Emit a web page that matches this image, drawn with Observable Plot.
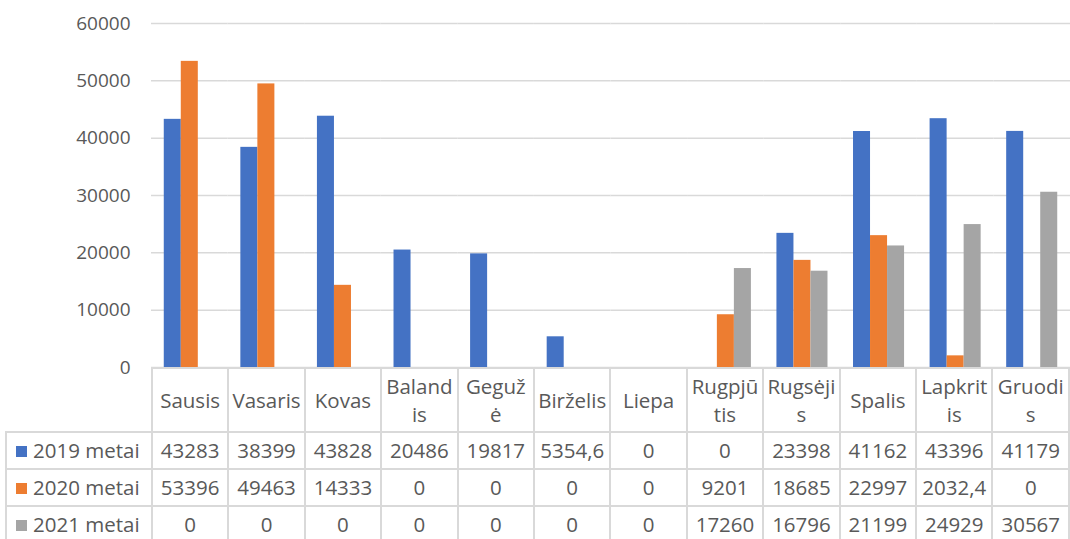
<!DOCTYPE html>
<html><head><meta charset="utf-8">
<script src="https://cdn.jsdelivr.net/npm/d3@7"></script>
<script src="https://cdn.jsdelivr.net/npm/@observablehq/plot@0.6"></script>
<style>
body{margin:0;background:#fff;font-family:"Open Sans",sans-serif;color:#595959;}
#wrap{position:relative;width:1070px;height:539px;overflow:hidden;background:#fff;}
#chart{position:absolute;left:0;top:0;}
table{border-collapse:collapse;table-layout:fixed;position:absolute;left:5px;top:367px;font-size:20.5px;color:#595959;}
td{border:2px solid #d9d9d9;padding:0;text-align:center;overflow:hidden;white-space:pre-line;}
tr.head td{height:62px;line-height:28px;}
tr.head td.corner{border-left:none;border-top:none;border-bottom-color:#d9d9d9;}
tr.row td{height:35px;line-height:35px;}
td.lab{text-align:left;padding-left:9px;white-space:nowrap;}
.key{display:inline-block;width:11px;height:11px;margin-right:6px;vertical-align:middle;position:relative;top:-1px;}
</style>
</head><body>
<div id="wrap"><div id="chart"></div></div>
<script>
const months = ["Sausis","Vasaris","Kovas","Balandis","Gegužė","Birželis","Liepa","Rugpjūtis","Rugsėjis","Spalis","Lapkritis","Gruodis"];
const monthLabels = ["Sausis","Vasaris","Kovas","Baland\nis","Geguž\nė","Birželis","Liepa","Rugpjū\ntis","Rugsėji\ns","Spalis","Lapkrit\nis","Gruodi\ns"];
const series = ["2019 metai","2020 metai","2021 metai"];
const v2019 = [43283,38399,43828,20486,19817,5354.6,0,0,23398,41162,43396,41179];
const v2020 = [53396,49463,14333,0,0,0,0,9201,18685,22997,2032.4,0];
const v2021 = [0,0,0,0,0,0,0,17260,16796,21199,24929,30567];
const colors = ["#4472C4","#ED7D31","#A5A5A5"];
const yTicks = [0,10000,20000,30000,40000,50000,60000];

const seriesValues = [v2019, v2020, v2021];
const data = months.flatMap((m, i) => series.map((s, j) => ({month: m, series: s, value: seriesValues[j][i]})));

const chart = Plot.plot({
  width: 1070, height: 382,
  marginTop: 23, marginBottom: 15, marginLeft: 151, marginRight: 0,
  fx: {domain: months, padding: 0, round: false, axis: null, label: null},
  x: {domain: series, paddingInner: 0, paddingOuter: 0.75, round: false, axis: null},
  y: {domain: [0, 60000], ticks: yTicks, tickSize: 0, tickPadding: 21, tickFormat: d => String(d), label: null},
  color: {domain: series, range: colors},
  style: {fontFamily: "Open Sans", fontSize: "19px", color: "#595959", background: "transparent"},
  marks: [
    Plot.ruleY(yTicks, {stroke: "#d9d9d9", strokeWidth: 1.5}),
    Plot.barY(data, {fx: "month", x: "series", y: "value", fill: "series"})
  ]
});
document.getElementById("chart").appendChild(chart);

// data table below the axis
const fmt = v => String(v).replace(".", ",");
const table = document.createElement("table");
const cg = document.createElement("colgroup");
const c0 = document.createElement("col"); c0.style.width = "146px"; cg.appendChild(c0);
months.forEach(() => { const c = document.createElement("col"); c.style.width = "76.5px"; cg.appendChild(c); });
table.appendChild(cg);
const head = document.createElement("tr"); head.className = "head";
const corner = document.createElement("td"); corner.className = "corner"; head.appendChild(corner);
monthLabels.forEach(l => { const td = document.createElement("td"); td.textContent = l; head.appendChild(td); });
table.appendChild(head);
series.forEach((s, j) => {
  const tr = document.createElement("tr"); tr.className = "row";
  const lab = document.createElement("td"); lab.className = "lab";
  const k = document.createElement("span"); k.className = "key"; k.style.background = colors[j];
  lab.appendChild(k); lab.appendChild(document.createTextNode(s));
  tr.appendChild(lab);
  seriesValues[j].forEach(v => { const td = document.createElement("td"); td.textContent = fmt(v); tr.appendChild(td); });
  table.appendChild(tr);
});
document.getElementById("wrap").appendChild(table);
</script>
</body></html>
